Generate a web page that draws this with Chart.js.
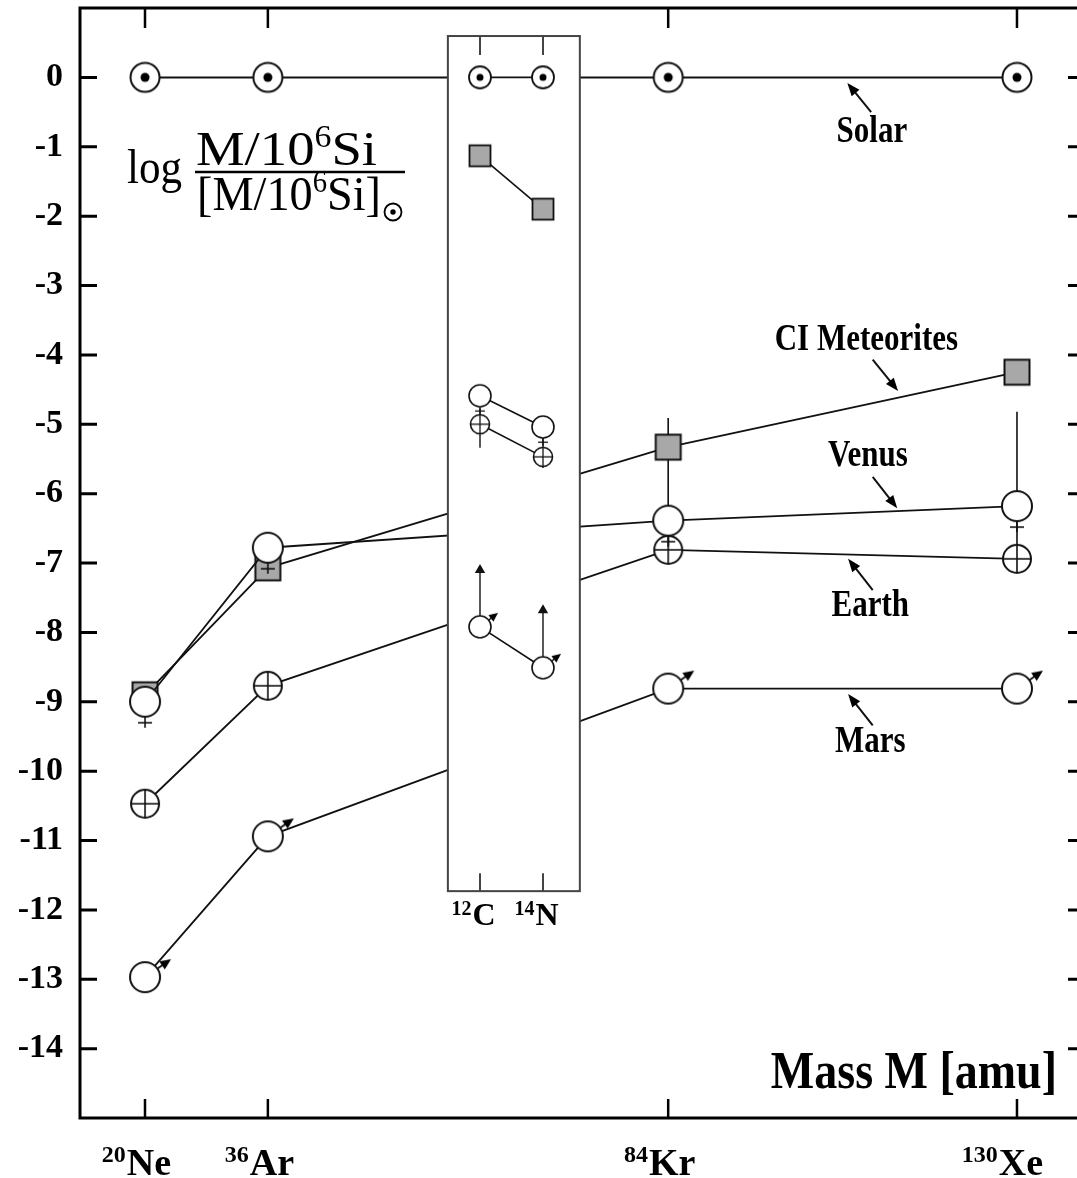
<!DOCTYPE html>
<html>
<head>
<meta charset="utf-8">
<script src="https://cdn.jsdelivr.net/npm/chart.js@4.4.1/dist/chart.umd.min.js"></script>
<style>
  html, body { margin: 0; padding: 0; background: #fff; overflow: hidden; }
  #wrap { width: 1084px; height: 1178px; }
</style>
</head>
<body>
<div id="wrap"><canvas id="abund" width="1084" height="1178"></canvas></div>
<script>
// x positions of the noble gases (amu-ish)
const nobleX = [20, 35.5, 86, 130];
const nobleMass = ['20', '36', '84', '130'];
const nobleSym = ['Ne', 'Ar', 'Kr', 'Xe'];
const insetX = [12, 14];
const insetMass = ['12', '14'];
const insetSym = ['C', 'N'];
const yTicks = [0, -1, -2, -3, -4, -5, -6, -7, -8, -9, -10, -11, -12, -13, -14];

// log abundances relative to solar
const solar = [0, 0, 0, 0];
const ciMet = [-8.90, -7.07, -5.33, -4.25];
const venus = [-9.00, -6.78, -6.39, -6.18];
const earth = [-10.47, -8.77, -6.81, -6.94];
const mars = [-12.97, -10.94, -8.81, -8.81];

// C and N (inset)
const solarCN = [0, 0];
const ciCN = [-1.13, -1.90];
const venusCN = [-4.59, -5.04];
const earthCN = [-5.00, -5.47];
const marsCN = [-7.92, -8.51];

// error bars
const errX = [86, 130, 130];
const errHi = [-4.91, -4.82, -6.18];
const errLo = [-6.39, -6.18, -6.94];
const errXi = [12, 14];
const errHiI = [-4.77, -5.20];
const errLoI = [-5.34, -5.63];
// Mars lower limits for C, N
const limTo = [-7.10, -7.68];

// labels pointing at the curves
const noteText = ['Solar', 'CI Meteorites', 'Venus', 'Earth', 'Mars'];
const noteX = [111.7, 111.0, 111.2, 111.5, 111.5];
const noteY = [-0.80, -3.79, -5.46, -7.62, -9.58];
const arrowFromX = [111.6, 111.8, 111.8, 111.8, 111.8];
const arrowFromY = [-0.50, -4.07, -5.76, -7.39, -9.34];
const arrowToX = [108.6, 115.0, 114.9, 108.7, 108.7];
const arrowToY = [-0.08, -4.52, -6.21, -6.94, -8.89];

// extent of the inset box (inset x units / y units)
const insetLeft = 10.98, insetRight = 15.17, insetTop = 0.596, insetBottom = -11.73;

const FONT = "'Liberation Serif', 'Times New Roman', serif";
const INK = '#111';

// ---- marker symbols ----
function sym(size, draw) {
  const c = document.createElement('canvas');
  c.width = c.height = size;
  const g = c.getContext('2d');
  g.translate(size / 2, size / 2);
  g.strokeStyle = INK;
  g.fillStyle = '#fff';
  draw(g);
  return c;
}
function ring(g, r, lw) {
  g.lineWidth = lw;
  g.beginPath(); g.arc(0, 0, r, 0, Math.PI * 2);
  g.fillStyle = '#fff'; g.fill(); g.stroke();
}
function seg(g, x1, y1, x2, y2) {
  g.beginPath(); g.moveTo(x1, y1); g.lineTo(x2, y2); g.stroke();
}
const solarSym = (r, d, lw) => sym(72, g => {
  ring(g, r, lw);
  g.fillStyle = '#000'; g.beginPath(); g.arc(0, 0, d, 0, Math.PI * 2); g.fill();
});
const squareSym = (h, lw) => sym(72, g => {
  g.fillStyle = '#a8a8a8'; g.fillRect(-h / 2, -h / 2, h, h);
  g.lineWidth = lw; g.strokeRect(-h / 2, -h / 2, h, h);
});
const venusSym = (r, lw, k) => sym(72, g => {
  ring(g, r, lw);
  g.lineWidth = lw * 0.8;
  seg(g, 0, r, 0, r + 11 * k);
  seg(g, -7 * k, r + 6 * k, 7 * k, r + 6 * k);
});
const earthSym = (r, lw) => sym(72, g => {
  ring(g, r, lw);
  g.lineWidth = lw * 0.8;
  seg(g, -r, 0, r, 0);
  seg(g, 0, -r, 0, r);
});
const marsSym = (r, lw, tx, ty, head) => sym(72, g => {
  ring(g, r, lw);
  const L = Math.hypot(tx, ty), ux = tx / L, uy = ty / L;
  g.lineWidth = lw * 0.9;
  seg(g, ux * r, uy * r, ux * (L - head * 0.8), uy * (L - head * 0.8));
  g.fillStyle = '#000';
  g.beginPath();
  g.moveTo(tx, ty);
  g.lineTo(tx - ux * head - uy * head * 0.45, ty - uy * head + ux * head * 0.45);
  g.lineTo(tx - ux * head + uy * head * 0.45, ty - uy * head - ux * head * 0.45);
  g.closePath(); g.fill();
});

const mk = {
  solar: solarSym(14.5, 4.5, 2), solarI: solarSym(11, 3.5, 1.8),
  ci: squareSym(25, 2), ciI: squareSym(21, 1.8),
  venus: venusSym(15, 2, 1), venusI: venusSym(11, 1.6, 0.7),
  earth: earthSym(14, 2), earthI: earthSym(9.5, 1.6),
  mars: marsSym(15, 2, 26, -18, 11), marsI: marsSym(11, 1.6, 18, -14, 9)
};

const pts = (xs, ys) => xs.map((x, i) => ({ x, y: ys[i] }));

function series(xs, ys, style, axis, order, lw) {
  return {
    data: pts(xs, ys), xAxisID: axis, yAxisID: 'y', order,
    showLine: true, borderColor: INK, borderWidth: lw,
    pointStyle: style, pointRadius: 10, pointHoverRadius: 10
  };
}
function bar(x, hi, lo, axis, order, lw) {
  return {
    data: [{ x, y: hi }, { x, y: lo }], xAxisID: axis, yAxisID: 'y', order,
    showLine: true, borderColor: INK, borderWidth: lw, pointRadius: 0
  };
}

const datasets = [
  series(nobleX, solar, mk.solar, 'x', 25, 2),
  series(nobleX, ciMet, mk.ci, 'x', 24, 1.8),
  series(nobleX, mars, mk.mars, 'x', 23, 1.8),
  series(nobleX, earth, mk.earth, 'x', 22, 1.8),
  series(nobleX, venus, mk.venus, 'x', 21, 1.8),
  series(insetX, solarCN, mk.solarI, 'xi', 5, 1.6),
  series(insetX, ciCN, mk.ciI, 'xi', 4, 1.6),
  series(insetX, marsCN, mk.marsI, 'xi', 3, 1.6),
  series(insetX, earthCN, mk.earthI, 'xi', 2, 1.6),
  series(insetX, venusCN, mk.venusI, 'xi', 1, 1.6)
];
errX.forEach((x, i) => datasets.push(bar(x, errHi[i], errLo[i], 'x', 26, 1.6)));
errXi.forEach((x, i) => datasets.push(bar(x, errHiI[i], errLoI[i], 'xi', 6, 1.4)));
insetX.forEach((x, i) => {
  const d = bar(x, marsCN[i], limTo[i], 'xi', 7, 1.4);
  d.pointRadius = [0, 6];
  d.pointStyle = 'triangle';
  d.pointBackgroundColor = INK;
  d.pointBorderColor = INK;
  d.pointBorderWidth = 0;
  datasets.push(d);
});

let insetDrawn = false;
const insetPlugin = {
  id: 'inset',
  beforeDraw() { insetDrawn = false; },
  beforeDatasetDraw(chart, args) {
    if (insetDrawn || args.meta.xAxisID !== 'xi') return;
    insetDrawn = true;
    const { ctx } = chart, xi = chart.scales.xi, y = chart.scales.y;
    const l = xi.getPixelForValue(insetLeft), r = xi.getPixelForValue(insetRight);
    const t = y.getPixelForValue(insetTop), b = y.getPixelForValue(insetBottom);
    ctx.save();
    ctx.fillStyle = '#fff';
    ctx.fillRect(l, t, r - l, b - t);
    ctx.strokeStyle = '#444';
    ctx.lineWidth = 2;
    ctx.strokeRect(l, t, r - l, b - t);
    insetX.forEach(v => {
      const p = xi.getPixelForValue(v);
      ctx.beginPath();
      ctx.moveTo(p, t); ctx.lineTo(p, t + 19);
      ctx.moveTo(p, b); ctx.lineTo(p, b - 18);
      ctx.stroke();
    });
    ctx.restore();
  }
};

function arrow(ctx, x1, y1, x2, y2) {
  const L = Math.hypot(x2 - x1, y2 - y1), ux = (x2 - x1) / L, uy = (y2 - y1) / L;
  const h = 13, w = 5;
  ctx.beginPath(); ctx.moveTo(x1, y1); ctx.lineTo(x2 - ux * h * 0.7, y2 - uy * h * 0.7); ctx.stroke();
  ctx.beginPath();
  ctx.moveTo(x2, y2);
  ctx.lineTo(x2 - ux * h - uy * w, y2 - uy * h + ux * w);
  ctx.lineTo(x2 - ux * h + uy * w, y2 - uy * h - ux * w);
  ctx.closePath(); ctx.fill();
}
function partsWidth(ctx, parts, size) {
  let w = 0;
  parts.forEach(([t, k]) => {
    ctx.font = `${k === 's' ? size * 0.62 : size}px ${FONT}`;
    w += ctx.measureText(t).width;
  });
  return w;
}
function drawParts(ctx, parts, size) {
  let x = 0;
  parts.forEach(([t, k]) => {
    ctx.font = `${k === 's' ? size * 0.62 : size}px ${FONT}`;
    ctx.fillText(t, x, k === 's' ? -size * 0.36 : 0);
    x += ctx.measureText(t).width;
  });
}
function fitText(ctx, parts, size, left, base, width, sy) {
  const sx = width / partsWidth(ctx, parts, size);
  ctx.save();
  ctx.translate(left, base);
  ctx.scale(sx, sy);
  drawParts(ctx, parts, size);
  ctx.restore();
}
// isotope label: mass number as superscript, symbol centred a little right of the tick
function isoLabel(ctx, mass, symb, px, base, size) {
  ctx.font = `bold ${size}px ${FONT}`;
  const ws = ctx.measureText(symb).width;
  const left = px + 4 - ws / 2;
  ctx.fillText(symb, left, base);
  ctx.font = `bold ${Math.round(size * 0.62)}px ${FONT}`;
  const wm = ctx.measureText(mass).width;
  ctx.fillText(mass, left - wm - 1, base - size * 0.33);
}

const decorPlugin = {
  id: 'decor',
  afterDatasetsDraw(chart) {
    const { ctx } = chart, x = chart.scales.x, y = chart.scales.y;
    ctx.save();
    ctx.strokeStyle = INK; ctx.fillStyle = '#000'; ctx.lineWidth = 2;
    noteText.forEach((t, i) => {
      arrow(ctx, x.getPixelForValue(arrowFromX[i]), y.getPixelForValue(arrowFromY[i]),
        x.getPixelForValue(arrowToX[i]), y.getPixelForValue(arrowToY[i]));
      ctx.save();
      ctx.translate(x.getPixelForValue(noteX[i]), y.getPixelForValue(noteY[i]));
      ctx.scale(1, 1.2);
      ctx.font = `bold 31px ${FONT}`;
      ctx.textAlign = 'center'; ctx.textBaseline = 'middle';
      ctx.fillText(t, 0, 0);
      ctx.restore();
    });
    ctx.restore();
  },
  afterDraw(chart) {
    const { ctx, chartArea: a } = chart, x = chart.scales.x, xi = chart.scales.xi, y = chart.scales.y;
    ctx.save();
    ctx.strokeStyle = '#000';
    // frame
    ctx.lineWidth = 3;
    ctx.beginPath();
    ctx.moveTo(a.left, a.bottom); ctx.lineTo(a.left, a.top); ctx.lineTo(a.right, a.top);
    ctx.lineTo(a.right, a.bottom); ctx.closePath();
    ctx.stroke();
    // inward ticks
    yTicks.forEach(v => {
      const p = y.getPixelForValue(v);
      ctx.beginPath();
      ctx.moveTo(a.left, p); ctx.lineTo(a.left + 17, p);
      ctx.moveTo(a.right, p); ctx.lineTo(a.right - 12, p);
      ctx.stroke();
    });
    ctx.lineWidth = 2.5;
    nobleX.forEach(v => {
      const p = x.getPixelForValue(v);
      ctx.beginPath();
      ctx.moveTo(p, a.top); ctx.lineTo(p, a.top + 20);
      ctx.moveTo(p, a.bottom); ctx.lineTo(p, a.bottom - 19);
      ctx.stroke();
    });
    ctx.fillStyle = '#000';
    ctx.textAlign = 'left'; ctx.textBaseline = 'alphabetic';
    // isotope tick labels
    nobleX.forEach((v, i) => isoLabel(ctx, nobleMass[i], nobleSym[i], x.getPixelForValue(v), a.bottom + 57, 38));
    insetX.forEach((v, i) => isoLabel(ctx, insetMass[i], insetSym[i], xi.getPixelForValue(v), y.getPixelForValue(insetBottom) + 34, 32));
    // y quantity
    fitText(ctx, [['log', 'n']], 44, a.left + 47, a.top + 175, 55, 1.12);
    fitText(ctx, [['M/10', 'n'], ['6', 's'], ['Si', 'n']], 44, a.left + 116, a.top + 157, 181, 1.12);
    fitText(ctx, [['[M/10', 'n'], ['6', 's'], ['Si]', 'n']], 44, a.left + 117, a.top + 202, 184, 1.12);
    ctx.lineWidth = 2.5;
    ctx.beginPath(); ctx.moveTo(a.left + 115, a.top + 164); ctx.lineTo(a.left + 325, a.top + 164); ctx.stroke();
    ctx.lineWidth = 1.8;
    ctx.beginPath(); ctx.arc(a.left + 313, a.top + 204, 8.5, 0, Math.PI * 2); ctx.stroke();
    ctx.beginPath(); ctx.arc(a.left + 313, a.top + 204, 2.7, 0, Math.PI * 2); ctx.fill();
    // x quantity
    ctx.save();
    ctx.translate(a.right - 23, a.bottom - 30);
    ctx.scale(1, 1.14);
    ctx.font = `bold 46px ${FONT}`;
    ctx.textAlign = 'right';
    ctx.fillText('Mass M [amu]', 0, 0);
    ctx.restore();
    ctx.restore();
  }
};

const noPad = s => { s.paddingLeft = 0; s.paddingRight = 0; s.paddingTop = 0; s.paddingBottom = 0; };

new Chart(document.getElementById('abund'), {
  type: 'scatter',
  data: { datasets },
  options: {
    responsive: false,
    animation: false,
    events: [],
    layout: { autoPadding: false, padding: { left: 0, top: 8, right: 4, bottom: 0 } },
    plugins: { legend: { display: false }, tooltip: { enabled: false } },
    scales: {
      x: {
        type: 'linear', position: 'bottom', min: 11.8, max: 137.95,
        afterBuildTicks: s => { s.ticks = nobleX.map(v => ({ value: v })); },
        afterFit: s => { s.height = 60; noPad(s); },
        ticks: { display: false },
        grid: { display: false, drawTicks: false }, border: { display: false }
      },
      xi: {
        type: 'linear', axis: 'x', position: 'bottom', display: false, min: -0.70, max: 31.05
      },
      y: {
        type: 'linear', position: 'left', min: -15, max: 1,
        afterBuildTicks: s => { s.ticks = yTicks.map(v => ({ value: v })); },
        afterFit: s => { s.width = 80; noPad(s); },
        ticks: {
          callback: v => String(v),
          font: { family: FONT, size: 34, weight: 'bold' }, color: '#000', padding: 17
        },
        grid: { display: false, drawTicks: false }, border: { display: false }
      }
    }
  },
  plugins: [insetPlugin, decorPlugin]
});
</script>
</body>
</html>
